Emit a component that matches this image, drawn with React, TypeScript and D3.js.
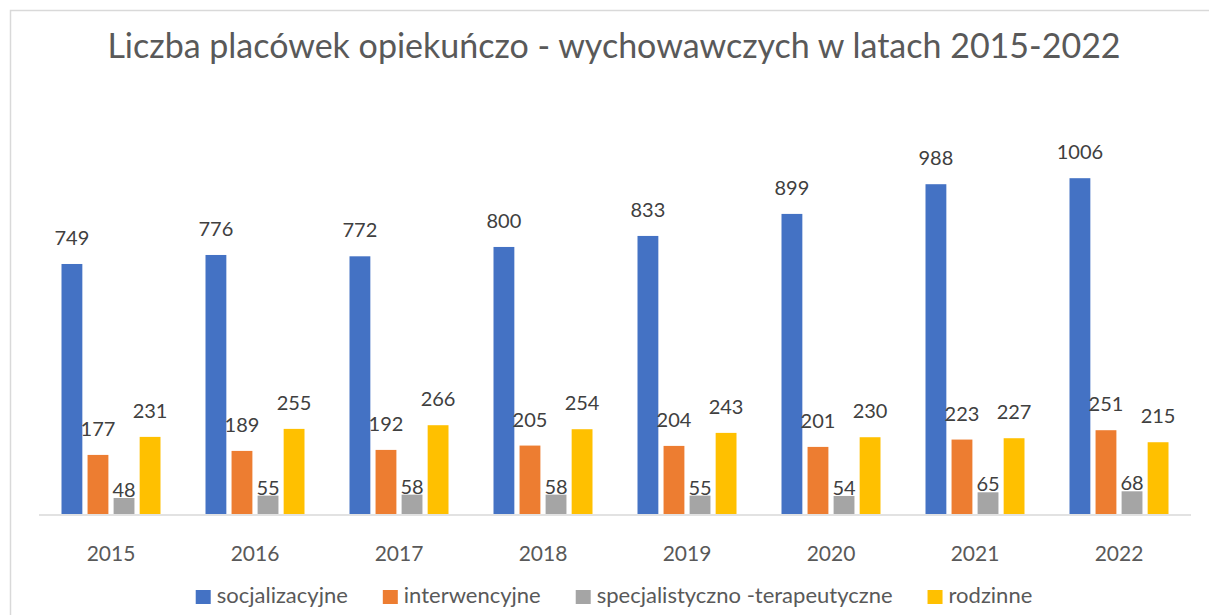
import React, { useRef, useEffect } from 'react';
import * as d3 from 'd3';

const years = ['2015', '2016', '2017', '2018', '2019', '2020', '2021', '2022'];
const seriesNames = ['socjalizacyjne', 'interwencyjne', 'specjalistyczno -terapeutyczne', 'rodzinne'];
const socjalizacyjne = [749, 776, 772, 800, 833, 899, 988, 1006];
const interwencyjne = [177, 189, 192, 205, 204, 201, 223, 251];
const specjalistyczne = [48, 55, 58, 58, 55, 54, 65, 68];
const rodzinne = [231, 255, 266, 254, 243, 230, 227, 215];
const colors = ['#4472C4', '#ED7D31', '#A5A5A5', '#FFC000'];
// label gap above each bar (gray labels sit right on the bar)
const labelGaps = [19, 19, 1, 19];

const title = 'Liczba placówek opiekuńczo - wychowawczych w latach 2015-2022';
const W = 1209;
const H = 615;
const FONT = 'Lato, "Open Sans", sans-serif';
const TEXT = '#595959';

const App = () => {
  const svgRef = useRef<SVGSVGElement>(null);

  useEffect(() => {
    const svg = d3.select(svgRef.current);
    svg.selectAll('*').remove();

    const values = [socjalizacyjne, interwencyjne, specjalistyczne, rodzinne];
    const margin = { left: 39, right: 18, baseline: 514 };

    // outer frame
    svg.append('rect')
      .attr('x', 10.5).attr('y', 10.5)
      .attr('width', W + 20).attr('height', H + 20)
      .attr('fill', 'white')
      .attr('stroke', '#D9D9D9')
      .attr('stroke-width', 1.5);

    svg.append('text')
      .attr('x', 614).attr('y', 58)
      .attr('text-anchor', 'middle')
      .style('font-family', FONT)
      .style('font-size', '34px')
      .style('fill', TEXT)
      .text(title);

    const x = d3.scaleBand<string>()
      .domain(years)
      .range([margin.left, W - margin.right])
      .paddingInner(0.3125)
      .paddingOuter(0.15625);

    const inner = d3.scaleBand<number>()
      .domain(d3.range(seriesNames.length))
      .range([0, x.bandwidth()])
      .paddingInner(0.2);

    const y = d3.scaleLinear()
      .domain([0, 1200])
      .range([margin.baseline, margin.baseline - 1200 * 0.3338]);

    const groups = svg.append('g').selectAll('g')
      .data(years)
      .enter()
      .append('g')
      .attr('transform', d => `translate(${x(d)},0)`);

    groups.each(function (year, yi) {
      const g = d3.select(this);
      values.forEach((vals, si) => {
        const v = vals[yi];
        g.append('rect')
          .attr('x', inner(si)!)
          .attr('y', y(v))
          .attr('width', inner.bandwidth())
          .attr('height', y(0) - y(v))
          .attr('fill', colors[si]);
        g.append('text')
          .attr('x', inner(si)! + inner.bandwidth() / 2)
          .attr('y', y(v) - labelGaps[si])
          .attr('text-anchor', 'middle')
          .style('font-family', FONT)
          .style('font-size', '20px')
          .style('fill', '#404040')
          .text(v);
      });
    });

    // baseline
    svg.append('line')
      .attr('x1', margin.left).attr('x2', W - margin.right)
      .attr('y1', y(0) + 1).attr('y2', y(0) + 1)
      .attr('stroke', '#D9D9D9')
      .attr('stroke-width', 1.5);

    // category labels
    svg.append('g').selectAll('text')
      .data(years)
      .enter()
      .append('text')
      .attr('x', d => x(d)! + x.bandwidth() / 2)
      .attr('y', 561)
      .attr('text-anchor', 'middle')
      .style('font-family', FONT)
      .style('font-size', '21px')
      .style('fill', TEXT)
      .text(d => d);

    // legend
    const legend = svg.append('g');
    const items = legend.selectAll('g')
      .data(seriesNames)
      .enter()
      .append('g');
    items.append('rect')
      .attr('y', 590)
      .attr('width', 15).attr('height', 14)
      .attr('fill', (_, i) => colors[i]);
    const labels = items.append('text')
      .attr('x', 21)
      .attr('y', 603)
      .style('font-family', FONT)
      .style('font-size', '22px')
      .style('fill', TEXT)
      .text(d => d);

    const widths = labels.nodes().map(n => (n as SVGTextElement).getComputedTextLength() + 21);
    const gap = 35;
    const total = d3.sum(widths) + gap * (widths.length - 1);
    let cx = 614 - total / 2;
    items.attr('transform', (_, i) => {
      const t = `translate(${cx},0)`;
      cx += widths[i] + gap;
      return t;
    });
  }, []);

  return (
    <svg
      ref={svgRef}
      width={W}
      height={H}
      style={{ position: 'absolute', left: 0, top: 0, background: 'white' }}
    />
  );
};

export default App;
